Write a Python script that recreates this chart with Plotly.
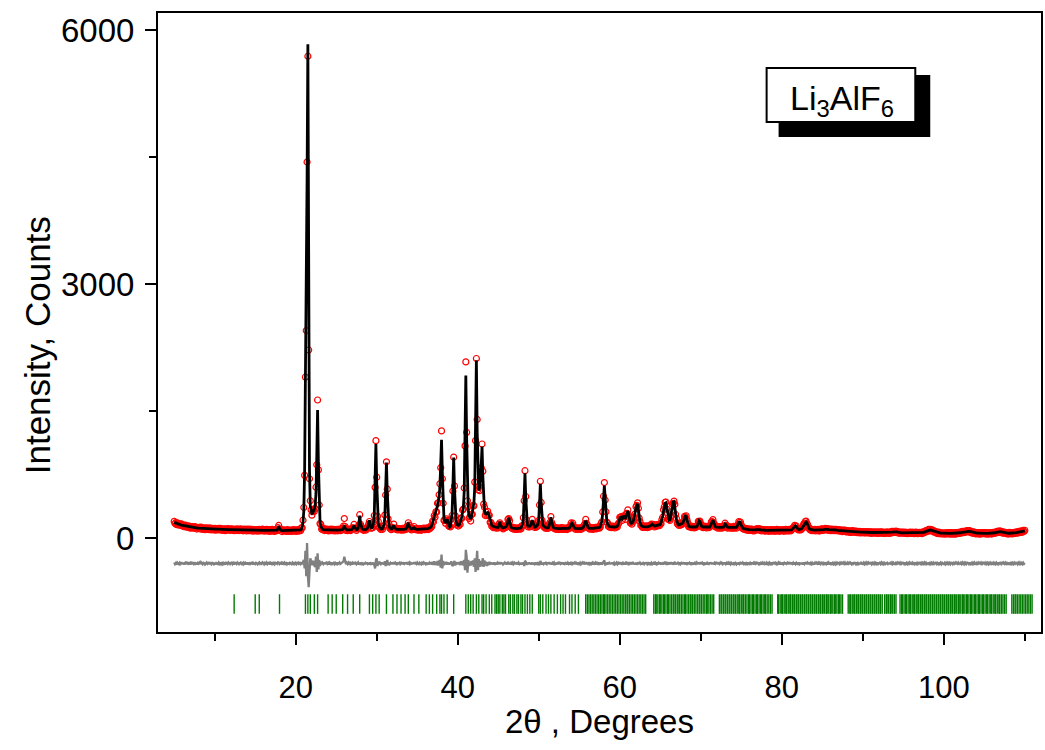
import numpy as np
import plotly.graph_objects as go

# ---------------- data ----------------
two_theta_start = 5.0   # first point of the step scan, degrees
two_theta_step = 0.1    # step of the scan, degrees

# calculated profile (black line), one row per degree: x.0 ... x.9
y_calc = [
    185,180,176,172,168,164,161,158,155,152,   # 5
    150,147,145,142,140,138,136,134,132,130,   # 6
    129,127,126,124,123,122,121,120,119,118,   # 7
    117,116,115,114,113,113,112,111,111,110,   # 8
    110,109,109,108,108,107,107,106,106,105,   # 9
    105,105,104,104,103,103,103,102,102,102,   # 10
    101,101,101,100,100,100,100,99,99,99,      # 11
    99,98,98,98,98,97,97,97,97,97,             # 12
    96,96,96,96,95,95,95,95,95,94,             # 13
    94,94,94,94,93,93,93,93,93,93,             # 14
    92,92,92,92,92,91,91,91,91,91,             # 15
    91,90,90,90,90,90,90,89,89,89,             # 16
    89,89,89,88,88,88,89,92,110,138,           # 17
    112,95,90,88,88,88,87,87,87,87,            # 18
    87,87,87,87,87,87,87,87,87,87,             # 19
    87,87,87,88,88,89,95,105,130,190,          # 20
    320,800,1750,2600,4200,5830,2500,800,380,300,  # 21
    290,295,310,340,385,520,965,1510,875,350,  # 22
    200,140,115,105,100,98,97,96,95,95,        # 23
    95,95,94,94,94,94,94,94,93,93,             # 24
    93,93,93,93,93,93,93,95,100,115,           # 25
    150,115,100,96,95,95,95,96,97,100,         # 26
    110,130,145,125,105,100,100,115,170,265,   # 27
    180,125,108,103,100,100,100,102,108,125,   # 28
    155,210,150,120,110,135,175,286,658,1110,  # 29
    658,286,175,135,115,108,106,110,130,160,   # 30
    246,537,890,537,246,160,125,112,108,110,   # 31
    125,150,125,110,105,103,102,102,103,104,   # 32
    103,103,103,103,103,104,107,120,140,180,   # 33
    140,115,108,106,110,118,122,112,105,103,   # 34
    102,102,102,102,102,102,103,104,105,106,   # 35
    106,107,108,110,112,116,122,130,150,180,   # 36
    210,240,265,295,330,380,440,490,600,880,   # 37
    1160,760,380,230,190,185,205,220,190,150,  # 38
    130,140,197,286,585,950,585,286,197,160,   # 39
    150,150,160,180,210,250,300,367,550,1168,  # 40
    1920,1168,550,330,260,230,225,250,300,350, # 41
    420,600,1250,2100,1250,650,560,600,690,864,  # 42
    1080,729,440,330,290,285,295,300,290,250,  # 43
    200,170,150,140,135,130,128,127,126,126,   # 44
    126,150,190,150,128,122,120,121,124,130,   # 45
    138,155,200,240,195,145,125,118,115,113,   # 46
    112,111,110,110,110,110,110,112,118,136,   # 47
    156,228,470,765,470,228,156,138,135,140,   # 48
    150,180,210,180,145,130,130,135,146,166,   # 49
    222,410,640,410,222,160,140,130,125,122,   # 50
    120,118,122,150,195,245,195,145,125,118,   # 51
    115,113,112,111,110,110,110,110,110,110,   # 52
    110,110,110,110,110,111,112,115,122,135,   # 53
    160,175,160,135,120,113,111,110,110,110,   # 54
    110,110,111,113,117,125,145,180,205,180,   # 55
    145,125,117,114,113,113,113,114,115,116,   # 56
    117,118,119,120,122,125,135,164,204,300,   # 57
    473,620,473,300,204,164,145,138,134,132,   # 58
    130,130,130,130,130,131,133,140,160,190,   # 59
    230,255,240,225,240,265,245,235,265,300,   # 60
    320,290,225,185,172,175,185,205,240,300,   # 61
    360,400,405,340,245,185,155,142,137,135,   # 62
    133,132,132,132,132,133,135,138,145,155,   # 63
    165,155,145,142,143,145,148,150,152,155,   # 64
    160,180,210,260,320,380,410,415,360,280,   # 65
    230,210,215,250,320,390,425,430,380,290,   # 66
    220,180,160,155,157,160,165,170,180,210,   # 67
    245,260,255,220,170,145,135,132,130,130,   # 68
    130,130,130,130,130,132,150,185,205,195,   # 69
    160,140,132,130,130,130,130,130,130,130,   # 70
    130,130,145,175,205,210,190,155,135,128,   # 71
    126,125,125,125,125,125,125,126,128,145,   # 72
    165,160,140,128,125,125,125,125,125,125,   # 73
    125,125,125,125,125,140,165,185,190,180,   # 74
    150,125,115,110,107,105,103,101,100,99,    # 75
    98,97,96,95,94,94,94,95,97,100,            # 76
    102,103,102,99,96,94,93,92,91,91,          # 77
    90,90,90,90,89,89,89,89,89,89,             # 78
    89,89,89,89,89,89,89,90,90,90,             # 79
    90,90,90,90,90,90,91,91,92,93,             # 80
    93,93,95,105,115,130,140,145,135,115,      # 81
    105,100,100,102,107,115,130,155,175,185,   # 82
    190,180,150,125,110,102,98,96,95,95,       # 83
    94,94,93,93,93,93,93,94,95,97,             # 84
    98,99,100,102,104,105,104,102,99,97,       # 85
    95,94,94,94,95,96,97,95,93,91,             # 86
    90,89,88,87,86,85,84,83,82,81,             # 87
    80,79,78,77,76,76,75,75,74,74,             # 88
    73,73,72,72,71,71,70,70,70,69,             # 89
    69,68,68,68,67,67,67,66,66,66,             # 90
    66,65,65,65,65,65,64,64,64,64,             # 91
    64,64,63,63,63,63,63,63,63,62,             # 92
    62,62,62,63,64,66,68,70,72,74,             # 93
    75,74,72,69,66,64,63,62,62,61,             # 94
    61,61,61,60,60,60,60,60,60,60,             # 95
    60,60,60,59,59,59,59,59,59,59,             # 96
    59,59,60,61,63,66,70,75,80,85,             # 97
    88,91,93,95,94,91,87,82,77,72,             # 98
    68,65,62,60,59,58,57,57,56,56,             # 99
    56,56,55,55,55,55,55,55,55,55,             # 100
    55,55,55,55,56,56,57,58,59,60,             # 101
    62,64,66,68,70,72,74,76,78,79,             # 102
    80,79,77,74,70,67,64,62,60,59,             # 103
    58,57,57,56,56,56,56,55,55,55,             # 104
    55,55,55,55,55,55,55,55,55,56,             # 105
    57,58,60,62,65,68,71,73,74,75,             # 106
    74,72,69,66,63,61,59,58,57,57,             # 107
    56,56,56,56,57,57,58,59,60,62,             # 108
    64,66,68,70,72,74,76,78,80,82,             # 109
    85,                                        # 110
]

# residual obs - calc (grey difference curve), same grid
y_resid = [
    12,-8,5,-15,10,3,-10,8,-5,14,        # 5
    -6,9,-12,4,11,-9,6,-3,13,-10,        # 6
    5,-11,8,2,-7,12,-4,9,-13,6,          # 7
    -3,10,-8,14,-5,-10,7,3,-12,8,        # 8
    11,-6,4,-9,13,-2,-11,7,5,-8,         # 9
    9,-12,6,3,-7,10,-5,12,-9,4,          # 10
    -10,7,2,-13,8,5,-6,11,-4,-8,         # 11
    6,10,-9,4,-12,8,3,-7,12,-5,          # 12
    -8,5,11,-6,2,-10,9,-3,7,-11,         # 13
    10,-4,-8,12,-6,3,9,-12,5,-2,         # 14
    -9,8,4,-11,6,10,-7,2,-5,13,          # 15
    5,-10,7,-3,11,-8,4,9,-12,6,          # 16
    -4,12,-7,5,-10,8,3,-6,12,10,         # 17
    -8,5,9,-12,6,-3,10,-7,4,-9,          # 18
    11,-5,-8,7,3,-10,9,-4,12,-6,         # 19
    7,-9,5,10,-6,4,-8,15,-10,20,         # 20
    40,-60,150,-150,240,-140,-280,-100,60,30,  # 21
    -20,15,30,-25,-40,80,-100,120,-70,40,      # 22
    -30,20,-10,8,-6,12,-9,5,10,-7,       # 23
    6,-11,9,-4,12,-8,3,7,-10,5,          # 24
    -6,10,-8,4,11,-7,-3,9,15,25,         # 25
    80,20,-10,6,-8,10,-5,7,-9,4,         # 26
    10,-12,15,-8,6,-10,8,12,-15,10,      # 27
    -18,12,-6,9,-10,5,7,-8,11,-6,        # 28
    8,-15,12,-5,9,-12,10,-20,-60,40,     # 29
    60,-30,20,-10,8,-6,12,-9,10,-15,     # 30
    25,-30,10,40,-20,10,-8,6,-10,12,     # 31
    -12,15,-10,8,-5,11,-7,4,9,-8,        # 32
    6,-10,12,-4,-8,10,-6,15,-12,0,       # 33
    12,-8,5,-10,9,-6,14,-9,4,-7,         # 34
    10,-5,-9,8,3,-11,7,-4,12,-6,         # 35
    -8,11,-5,9,-12,6,-9,14,-15,20,       # 36
    -20,25,-18,15,-22,30,-25,20,40,-50,  # 37
    105,-60,30,-20,15,-12,20,-15,10,-12, # 38
    8,-10,25,-20,-30,5,30,-25,15,-10,    # 39
    12,-9,15,-20,25,-18,30,-25,40,-80,   # 40
    160,80,-110,40,-30,20,-25,30,-20,35, # 41
    -40,60,-100,20,150,-80,50,-40,30,-35,  # 42
    30,60,-40,35,-25,20,-30,15,-20,18,   # 43
    -15,12,-10,8,-12,10,-6,9,-11,7,      # 44
    -8,15,-10,12,-7,9,-12,6,10,-9,       # 45
    12,-15,20,-10,8,-12,7,-5,10,-8,      # 46
    6,-9,11,-4,-7,10,-6,8,-12,9,         # 47
    -15,12,-30,30,20,-18,10,-8,12,-10,   # 48
    8,-12,10,-15,9,-6,11,-8,-10,14,      # 49
    -15,-20,30,10,-12,9,-7,10,-9,6,      # 50
    -8,11,-6,14,-10,8,-12,7,-5,10,       # 51
    -7,9,-11,5,8,-10,6,-4,12,-8,         # 52
    10,-6,-9,7,4,-11,8,-5,12,-15,        # 53
    18,-20,15,-8,6,-10,9,-4,-7,11,       # 54
    -6,8,-10,5,12,-9,6,-11,15,-8,        # 55
    10,-7,4,-9,11,-5,8,-12,6,-4,         # 56
    9,-11,6,-4,12,-8,-5,10,-12,8,        # 57
    20,35,-25,10,-15,12,-8,6,-10,9,      # 58
    -7,11,-5,8,-12,6,10,-9,5,-11,        # 59
    15,-10,12,-18,20,-12,8,-15,22,-10,   # 60
    12,-20,15,-8,10,-12,18,-9,6,-14,     # 61
    10,-15,10,12,-10,8,-6,9,-11,5,       # 62
    -8,10,-6,12,-9,4,-7,11,-5,8,         # 63
    -10,6,9,-12,5,-8,11,-4,7,-9,         # 64
    10,-12,8,-15,14,-10,12,10,-18,15,    # 65
    -12,10,-8,14,-10,12,-15,5,18,-12,    # 66
    9,-10,7,-6,11,-8,5,-9,12,-7,         # 67
    10,-12,8,-6,9,-10,7,-5,11,-8,        # 68
    -6,9,-11,7,-4,10,-8,12,-10,6,        # 69
    8,-10,6,-7,11,-5,9,-12,7,-4,         # 70
    -8,10,-6,12,-10,8,-11,7,-5,9,        # 71
    7,-9,11,-5,8,-10,6,-7,12,-8,         # 72
    10,-8,6,-11,9,-4,7,-10,5,-6,         # 73
    -9,12,-7,5,-10,8,-12,10,-6,9,        # 74
    6,-10,8,-5,11,-7,4,-9,10,-6,         # 75
    -8,7,-5,10,-9,6,-11,8,-4,9,          # 76
    7,-6,10,-8,5,-11,9,-4,7,-9,          # 77
    -6,9,-7,5,-10,8,-5,11,-8,6,          # 78
    8,-10,6,-7,12,-5,9,-11,6,-4,         # 79
    -7,10,-8,6,-9,11,-5,7,-10,8,         # 80
    6,-9,10,-5,8,-12,10,-8,7,-6,         # 81
    -8,11,-6,9,-10,7,-12,10,-7,8,        # 82
    9,-10,7,-8,11,-6,8,-9,5,-7,          # 83
    -6,8,-10,7,-4,9,-11,6,-8,10,         # 84
    7,-9,5,-6,10,-8,6,-11,9,-5,          # 85
    -8,10,-6,7,-9,5,-10,8,-6,9,          # 86
    6,-8,9,-5,7,-10,8,-6,10,-7,          # 87
    -7,9,-5,8,-10,6,-8,11,-6,7,          # 88
    8,-6,10,-9,5,-7,9,-10,7,-5,          # 89
    -6,8,-9,6,-7,10,-5,8,-10,6,          # 90
    7,-10,6,-5,9,-8,7,-6,10,-9,          # 91
    -5,8,-7,10,-6,7,-9,5,-8,9,           # 92
    8,-6,9,-10,6,-5,10,-8,7,-6,          # 93
    -9,7,-5,8,-10,6,-7,9,-5,8,           # 94
    6,-8,10,-6,7,-9,5,-7,10,-5,          # 95
    -7,9,-6,5,-8,10,-6,7,-9,6,           # 96
    8,-5,7,-9,6,-7,10,-6,8,-10,          # 97
    -6,10,-8,6,-9,7,-5,9,-7,6,           # 98
    9,-7,5,-8,10,-6,8,-9,6,-5,           # 99
    -8,6,-10,7,-5,9,-7,6,-9,8,           # 100
    7,-9,6,-6,8,-10,7,-5,9,-6,           # 101
    -5,8,-7,10,-6,8,-9,6,-7,9,           # 102
    6,-8,10,-7,5,-9,8,-6,10,-7,          # 103
    -9,7,-5,8,-10,6,-7,9,-5,8,           # 104
    8,-6,9,-7,6,-10,7,-5,8,-9,           # 105
    -6,9,-7,5,-9,8,-6,10,-8,6,           # 106
    7,-8,6,-10,8,-5,9,-7,6,-8,           # 107
    -8,10,-6,7,-9,6,-8,9,-5,7,           # 108
    6,-9,8,-6,10,-7,5,-8,9,-6,           # 109
    5,                                   # 110
]

diff_offset = -300          # baseline of the difference curve
reflection_level = -780     # height of the Bragg position markers

# Bragg reflection positions (green ticks), degrees 2-theta
reflections = [
    12.4, 15.0, 15.5, 18.0, 21.2, 21.5, 21.8, 22.3, 22.7, 24.0, 24.5, 25.0, 25.8,
    26.4, 27.1, 27.9, 29.1, 29.5, 29.9, 30.3, 31.2, 32.0, 32.5, 33.0, 33.5, 33.9,
    34.6, 35.2, 36.1, 36.5, 36.9, 37.4, 37.8, 38.0, 38.3, 38.7, 39.5,
    41.0, 41.3, 41.6, 41.9, 42.3, 42.6, 43.0, 43.2, 43.5, 43.9, 44.2, 44.6,
    44.8, 45.0, 45.2, 45.5, 45.7, 45.9, 46.3, 46.5, 46.8, 47.0, 47.3, 47.5, 47.8,
    48.0, 48.3, 48.6, 48.9, 49.2, 50.0, 50.2, 50.5, 50.9, 51.2, 51.5, 51.9, 52.3,
    52.7, 53.0, 53.3, 53.8, 54.1, 54.5, 54.9,
    55.8, 56.0, 56.2, 56.4, 56.6, 56.8, 57.0, 57.2, 57.4, 57.6, 57.8, 58.0, 58.1,
    58.3, 58.5, 58.7, 58.9, 59.1, 59.3, 59.5, 59.7, 59.9, 60.1, 60.3, 60.5, 60.7,
    60.9, 61.0, 61.2, 61.4, 61.6, 61.8, 62.0, 62.2, 62.4, 62.6, 62.8, 63.0, 63.2,
    64.2, 64.4, 64.5, 64.7, 64.9, 65.0, 65.2, 65.4, 65.5, 65.7, 65.9, 66.0, 66.2,
    66.4, 66.6, 66.7, 66.9, 67.1, 67.3, 67.4, 67.6, 67.8, 68.0, 68.1, 68.3, 68.5,
    68.7, 68.8, 69.0, 69.2, 69.4, 69.6, 69.8, 69.9, 70.1, 70.3, 70.5, 70.7, 70.8,
    71.0, 71.2, 71.4, 71.6,
    72.3, 72.5, 72.6, 72.8, 73.0, 73.1, 73.3, 73.5, 73.6, 73.8, 74.0, 74.1, 74.3,
    74.5, 74.7, 74.8, 75.0, 75.2, 75.3, 75.5, 75.7, 75.9, 76.0, 76.2, 76.4, 76.5,
    76.7, 76.9, 77.0, 77.2, 77.4, 77.5, 77.7, 77.9, 78.0, 78.2, 78.4, 78.6, 78.8,
    79.5, 79.6, 79.8, 80.0, 80.1, 80.3, 80.5, 80.6, 80.8, 81.0, 81.1, 81.3, 81.5,
    81.6, 81.8, 82.0, 82.1, 82.3, 82.5, 82.6, 82.8, 83.0, 83.1, 83.3, 83.5, 83.6,
    83.8, 84.0, 84.1, 84.3, 84.5, 84.6, 84.8, 85.0, 85.1, 85.3, 85.5, 85.6, 85.8,
    86.0, 86.1, 86.3, 86.5, 86.6, 86.8, 87.0, 87.1, 87.3, 87.5,
    88.2, 88.4, 88.5, 88.7, 88.9, 89.0, 89.2, 89.4, 89.5, 89.7, 89.9, 90.0, 90.2,
    90.4, 90.5, 90.7, 90.9, 91.0, 91.2, 91.4, 91.5, 91.7, 91.9, 92.0, 92.2, 92.4,
    92.7, 92.9, 93.0, 93.2, 93.4, 93.5, 93.7, 93.9, 94.1,
    94.6, 94.8, 94.9, 95.1, 95.3, 95.4, 95.6, 95.8, 95.9, 96.1, 96.3, 96.4, 96.6,
    96.8, 96.9, 97.1, 97.3, 97.4, 97.6, 97.8, 97.9, 98.1, 98.3, 98.4, 98.6, 98.8,
    98.9, 99.1, 99.3, 99.4, 99.6, 99.8, 99.9, 100.1, 100.3, 100.4, 100.6, 100.8,
    100.9, 101.1, 101.3, 101.4, 101.6, 101.8, 101.9, 102.1, 102.3, 102.4, 102.6,
    102.8, 102.9, 103.1, 103.3, 103.4, 103.6, 103.8, 103.9, 104.1, 104.3, 104.4,
    104.6, 104.8, 104.9, 105.1, 105.3, 105.4, 105.6, 105.8, 105.9, 106.1, 106.3,
    106.4, 106.6, 106.8, 106.9, 107.1, 107.3, 107.5, 107.7,
    108.4, 108.6, 108.8, 108.9, 109.1, 109.3, 109.5, 109.7, 109.9, 110.1, 110.3,
    110.5, 110.7, 110.9,
]

x_ticks = [20, 40, 60, 80, 100]
y_ticks = [0, 3000, 6000]
phase_label = "Li<sub>3</sub>AlF<sub>6</sub>"

# ---------------- build ----------------
assert len(y_calc) == len(y_resid)
two_theta = np.round(two_theta_start + two_theta_step * np.arange(len(y_calc)), 2)
calc = np.array(y_calc, dtype=float)
resid = np.array(y_resid, dtype=float)
obs = calc + resid
diff = resid + diff_offset

FONT = "Liberation Sans, Arial, sans-serif"

fig = go.Figure()
fig.add_trace(go.Scatter(
    x=two_theta, y=obs, mode="markers",
    marker=dict(symbol="circle-open", size=6, color="#ff0000",
                line=dict(width=1.2, color="#ff0000")),
    name="Yobs", showlegend=False))
fig.add_trace(go.Scatter(
    x=two_theta, y=calc, mode="lines",
    line=dict(color="black", width=2.8), name="Ycalc", showlegend=False))
fig.add_trace(go.Scatter(
    x=two_theta, y=diff, mode="lines",
    line=dict(color="#808080", width=2.3), name="Yobs-Ycalc", showlegend=False))
fig.add_trace(go.Scatter(
    x=reflections, y=[reflection_level] * len(reflections), mode="markers",
    marker=dict(symbol="line-ns", size=14, color="#007a00",
                line=dict(width=1.4, color="#007a00")),
    name="Bragg", showlegend=False))

L, R, T, B = 158, 2, 13, 118
W, H = 1045, 750
pw, ph = W - L - R, H - T - B

def px(xp):
    return (xp - L) / pw

def py(yp):
    return (H - B - yp) / ph

shapes = [
    dict(type="rect", xref="paper", yref="paper",
         x0=px(780), x1=px(932), y0=py(137), y1=py(75),
         fillcolor="black", line=dict(width=0), layer="above"),
    dict(type="rect", xref="paper", yref="paper",
         x0=px(768), x1=px(917), y0=py(122), y1=py(68),
         fillcolor="white", line=dict(width=2, color="black"), layer="above"),
]

annotations = [
    dict(text=phase_label, xref="paper", yref="paper", x=px(844), y=py(101),
         xanchor="center", yanchor="middle", showarrow=False,
         font=dict(family=FONT, size=34, color="black")),
    dict(text="Intensity, Counts", xref="paper", yref="paper",
         x=px(37), y=py(345), xanchor="center", yanchor="middle",
         textangle=-90, showarrow=False,
         font=dict(family=FONT, size=35, color="black")),
    dict(text="2\u03b8 , Degrees", xref="paper", yref="paper",
         x=px(601), y=py(721), xanchor="center", yanchor="middle",
         showarrow=False, font=dict(family=FONT, size=33, color="black")),
]

axis_common = dict(
    showline=True, linewidth=2, linecolor="black", mirror=True,
    ticks="outside", ticklen=11, tickwidth=2, tickcolor="black",
    showgrid=False, zeroline=False,
)

fig.update_layout(
    width=W, height=H,
    margin=dict(l=L, r=R, t=T, b=B, pad=0),
    paper_bgcolor="white", plot_bgcolor="white",
    showlegend=False,
    shapes=shapes, annotations=annotations,
    xaxis=dict(range=[3, 112], tickvals=x_ticks,
               ticktext=[str(v) for v in x_ticks],
               minor=dict(tickvals=[10, 30, 50, 70, 90, 110], ticklen=7,
                          tickwidth=2, tickcolor="black", ticks="outside"),
               tickfont=dict(family=FONT, size=31, color="black"),
               ticklabelstandoff=16,
               **axis_common),
    yaxis=dict(range=[-1110, 6200], tickvals=y_ticks,
               ticktext=[str(v) for v in y_ticks],
               minor=dict(tickvals=[1500, 4500], ticklen=7, tickwidth=2,
                          tickcolor="black", ticks="outside"),
               tickfont=dict(family=FONT, size=33, color="black"),
               ticklabelstandoff=4,
               **axis_common),
)

fig.write_html("out.html")
